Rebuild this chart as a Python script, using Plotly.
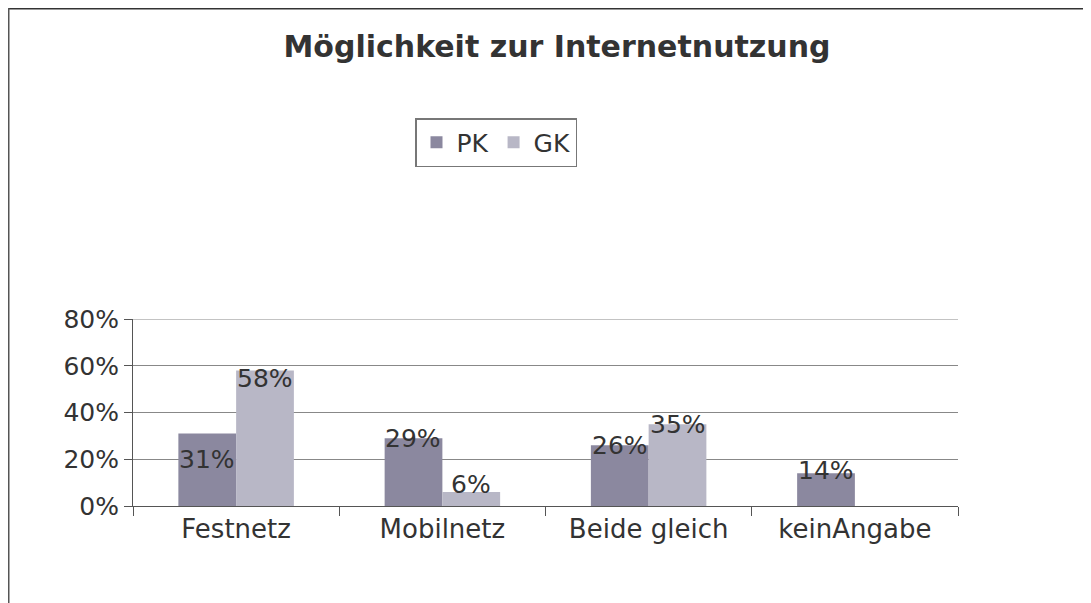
import plotly.graph_objects as go

categories = ["Festnetz", "Mobilnetz", "Beide gleich", "keinAngabe"]
pk_values = [31, 29, 26, 14]
gk_values = [58, 6, 35, None]
series_names = ["PK", "GK"]
y_ticks = [0, 20, 40, 60, 80]
y_tick_labels = ["0%", "20%", "40%", "60%", "80%"]

# label vertical offsets in px (style only)
pk_label_shift = [-26, 0, 0, 3]
gk_label_shift = [-8, 7, 0, 0]

# page has an 8px body margin; figure sized to fit the window
W, H = 1083, 595
L, R, T, B = 125, 133, 311, 97
FONT = "DejaVu Sans, Liberation Sans, Arial, sans-serif"
TXT = "#333333"

fig = go.Figure()
fig.add_trace(go.Bar(name=series_names[0], x=categories, y=pk_values,
                     marker=dict(color="#8b889f", line=dict(width=0))))
fig.add_trace(go.Bar(name=series_names[1], x=categories, y=gk_values,
                     marker=dict(color="#b8b7c6", line=dict(width=0))))

for i, v in enumerate(pk_values):
    if v is not None:
        fig.add_annotation(x=categories[i], y=v, text=f"{v}%", showarrow=False,
                           xshift=-29, yshift=pk_label_shift[i],
                           font=dict(family=FONT, size=25, color=TXT))
for i, v in enumerate(gk_values):
    if v is not None:
        fig.add_annotation(x=categories[i], y=v, text=f"{v}%", showarrow=False,
                           xshift=29, yshift=gk_label_shift[i],
                           font=dict(family=FONT, size=25, color=TXT))

pw = W - L - R
ph = H - T - B
# top gridline (plotly clips grid lines at the range edge)
fig.add_shape(type="line", xref="paper", yref="y", x0=0, x1=1,
              y0=y_ticks[-1], y1=y_ticks[-1], line=dict(color="#888888", width=1),
              layer="below")
# outer border (left and top edges visible)
fig.add_shape(type="line", xref="paper", yref="paper",
              x0=(0 - L) / pw, x1=(W - L) / pw,
              y0=(H - B) / ph, y1=(H - B) / ph,
              line=dict(color="#333333", width=3))
fig.add_shape(type="line", xref="paper", yref="paper",
              x0=(0 - L) / pw, x1=(0 - L) / pw,
              y0=(H - B) / ph, y1=(-B) / ph,
              line=dict(color="#555555", width=3))

fig.update_layout(
    width=W, height=H,
    margin=dict(l=L, r=R, t=T, b=B),
    paper_bgcolor="white", plot_bgcolor="white",
    barmode="group", bargap=0.44, bargroupgap=0,
    font=dict(family=FONT, color=TXT),
    title=dict(text="<b>Möglichkeit zur Internetnutzung</b>", x=(557 - 8) / W,
               xanchor="center", y=1 - 38 / H, yanchor="middle",
               font=dict(family=FONT, size=30, color=TXT)),
    legend=dict(orientation="h", x=(407 - L) / pw, xanchor="left",
                y=(H - B - 110) / ph, yanchor="top",
                bordercolor="#777777", borderwidth=1.5, bgcolor="white",
                font=dict(family=FONT, size=25, color=TXT),
                itemwidth=30, traceorder="normal"),
    showlegend=True,
)
fig.update_xaxes(showline=True, linecolor="#555555", linewidth=1,
                 ticks="outside", tickson="boundaries", ticklen=9, tickcolor="#555555",
                 tickfont=dict(family=FONT, size=26, color=TXT), showgrid=False)
fig.update_yaxes(range=[0, 80], tickvals=y_ticks, ticktext=y_tick_labels,
                 showline=True, linecolor="#555555", linewidth=1,
                 ticks="outside", ticklen=8, tickcolor="#555555",
                 showgrid=True, gridcolor="#888888", gridwidth=1,
                 zeroline=False,
                 tickfont=dict(family=FONT, size=25, color=TXT))

fig.write_html("out.html")
